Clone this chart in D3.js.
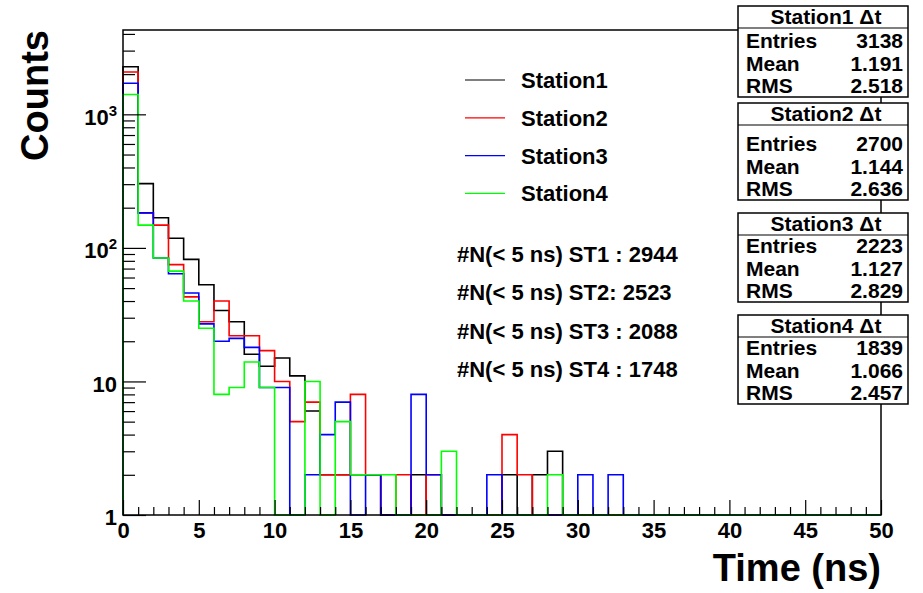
<!DOCTYPE html>
<html>
<head>
<meta charset="utf-8">
<script src="https://cdn.jsdelivr.net/npm/d3@7"></script>
<style>
body { margin: 0; background: #fff; }
text { font-family: "Liberation Sans", Arial, Helvetica, sans-serif; font-weight: bold; fill: #000; }
</style>
</head>
<body>
<svg id="chart" width="923" height="593"></svg>
<script>
// bins of 1 ns from 0 to 50 ns, counts per bin
const stationNames = ["Station1", "Station2", "Station3", "Station4"];
const stationColors = ["#000000", "#ff0000", "#0000ff", "#00ff00"];

const station1 = [2273, 303, 168, 118, 82, 53, 34, 28, 16, 13,
                  15, 11, 6, 2, 2, 2, 2, 1, 0, 2,
                  0, 0, 0, 0, 0, 2, 0, 2, 3, 0,
                  0, 0, 0, 0, 0, 0, 0, 0, 0, 0,
                  0, 0, 0, 0, 0, 0, 0, 0, 0, 0];
const station2 = [2074, 183, 148, 75, 43, 28, 40, 22, 22, 17,
                  10, 5, 7, 2, 2, 8, 2, 0, 2, 0,
                  2, 0, 0, 0, 0, 4, 2, 0, 0, 0,
                  0, 0, 0, 0, 0, 0, 0, 0, 0, 0,
                  0, 0, 0, 0, 0, 0, 0, 0, 0, 0];
const station3 = [1711, 183, 84, 64, 46, 27, 20, 21, 18, 9,
                  9, 0, 2, 4, 7, 0, 2, 0, 0, 8,
                  2, 0, 0, 0, 2, 0, 0, 0, 0, 0,
                  2, 0, 2, 0, 0, 0, 0, 0, 0, 0,
                  0, 0, 0, 0, 0, 0, 0, 0, 0, 0];
const station4 = [1409, 148, 84, 67, 40, 25, 8, 9, 14, 9,
                  0, 0, 10, 0, 5, 2, 2, 2, 0, 0,
                  0, 3, 0, 0, 0, 0, 0, 0, 2, 0,
                  0, 0, 0, 0, 0, 0, 0, 0, 0, 0,
                  0, 0, 0, 0, 0, 0, 0, 0, 0, 0];

const statEntries = [3138, 2700, 2223, 1839];
const statMeans = ["1.191", "1.144", "1.127", "1.066"];
const statRms = ["2.518", "2.636", "2.829", "2.457"];
const notes = ["#N(< 5 ns) ST1 : 2944", "#N(< 5 ns) ST2: 2523",
               "#N(< 5 ns) ST3 : 2088", "#N(< 5 ns) ST4 : 1748"];

const xMajorTicks = [0, 5, 10, 15, 20, 25, 30, 35, 40, 45, 50];
const yMajorTicks = [1, 10, 100, 1000];

const svg = d3.select("#chart");
const frameL = 123, frameR = 881, frameT = 30, frameB = 515;

const x = d3.scaleLinear().domain([0, 50]).range([frameL, frameR]);
const y = d3.scaleLog().domain([1, 4280]).range([frameB, frameT]).clamp(true);

// step outline of each histogram, drawn in order so green ends on top
const series = [station1, station2, station3, station4];
const line = d3.line().x(d => x(d[0])).y(d => y(Math.max(d[1], 1)));

series.forEach(function(vals, s) {
	let pts = [[0, 0]];
	vals.forEach(function(v, i) {
		pts.push([i, v]);
		pts.push([i + 1, v]);
	});
	pts.push([50, 0]);
	svg.append("path")
		.attr("d", line(pts))
		.attr("fill", "none")
		.attr("stroke", stationColors[s])
		.attr("stroke-width", 1.6);
});

// axes, ticks pointing into the frame
const xMinor = d3.range(0, 51).filter(v => v % 5 !== 0);
svg.append("g")
	.attr("transform", `translate(0,${frameB})`)
	.call(d3.axisBottom(x).tickValues(xMinor).tickSize(-8).tickFormat(""))
	.call(g => g.select(".domain").remove());
svg.append("g")
	.attr("transform", `translate(0,${frameB})`)
	.call(d3.axisBottom(x).tickValues(xMajorTicks).tickSize(-15).tickPadding(7).tickFormat(d3.format("d")))
	.call(g => g.select(".domain").remove())
	.call(g => g.selectAll("text").attr("font-size", 22).attr("font-family", null));

let yMinor = [];
[1, 10, 100, 1000].forEach(function(dec) {
	for (let k = 2; k <= 9; k++) if (dec * k < 4280) yMinor.push(dec * k);
});
svg.append("g")
	.attr("transform", `translate(${frameL},0)`)
	.call(d3.axisLeft(y).tickValues(yMinor).tickSize(-12).tickFormat(""))
	.call(g => g.select(".domain").remove());
svg.append("g")
	.attr("transform", `translate(${frameL},0)`)
	.call(d3.axisLeft(y).tickValues(yMajorTicks).tickSize(-23).tickPadding(6).tickFormat(d => String(d)))
	.call(g => g.select(".domain").remove())
	.call(g => g.selectAll("text")
		.attr("font-size", 22).attr("font-family", null).attr("dy", "0.45em")
		.each(function(d) {
			const e = Math.round(Math.log10(d));
			if (e >= 2) {
				d3.select(this).text("10")
					.append("tspan").attr("dy", -9).attr("font-size", 15).text(e);
			}
		}));
svg.selectAll(".tick line").attr("stroke", "#000").attr("stroke-width", 1.2);

svg.append("rect")
	.attr("x", frameL).attr("y", frameT)
	.attr("width", frameR - frameL).attr("height", frameB - frameT)
	.attr("fill", "none").attr("stroke", "#000").attr("stroke-width", 1.5);

// axis titles
svg.append("text")
	.attr("transform", "translate(48,30) rotate(-90)")
	.attr("text-anchor", "end")
	.attr("font-size", 38)
	.text("Counts");
svg.append("text")
	.attr("x", frameR).attr("y", 581)
	.attr("text-anchor", "end")
	.attr("font-size", 38)
	.text("Time (ns)");

// legend
const legend = svg.append("g");
stationNames.forEach(function(name, i) {
	const ly = 80 + i * 37.8;
	legend.append("line")
		.attr("x1", 465).attr("x2", 505).attr("y1", ly).attr("y2", ly)
		.attr("stroke", stationColors[i]).attr("stroke-width", 1.2);
	legend.append("text")
		.attr("x", 521).attr("y", ly + 8)
		.attr("font-size", 22)
		.text(name);
});

// counts below 5 ns
notes.forEach(function(t, i) {
	svg.append("text")
		.attr("x", 457).attr("y", 262 + i * 38.3)
		.attr("font-size", 22)
		.text(t);
});

// stat boxes
const boxTops = [6, 103, 213, 315];
const boxBottoms = [97, 200, 302, 404];
const bx0 = 738, bx1 = 908;
stationNames.forEach(function(name, i) {
	const g = svg.append("g");
	const t0 = boxTops[i], t1 = boxBottoms[i], sep = t0 + 22;
	g.append("rect")
		.attr("x", bx0).attr("y", t0)
		.attr("width", bx1 - bx0).attr("height", t1 - t0)
		.attr("fill", "#fff").attr("stroke", "#000").attr("stroke-width", 1.5);
	g.append("line")
		.attr("x1", bx0).attr("x2", bx1).attr("y1", sep).attr("y2", sep)
		.attr("stroke", "#000").attr("stroke-width", 1.2);
	g.append("text")
		.attr("x", (bx0 + bx1) / 2 + 3).attr("y", sep - 4)
		.attr("text-anchor", "middle")
		.attr("font-size", 21)
		.text(name + " \u0394t");
	const rows = [["Entries", statEntries[i]], ["Mean", statMeans[i]], ["RMS", statRms[i]]];
	rows.forEach(function(r, k) {
		const by = t1 - 4 - (2 - k) * 22.5;
		g.append("text").attr("x", bx0 + 8).attr("y", by).attr("font-size", 21).text(r[0]);
		g.append("text").attr("x", bx1 - 5).attr("y", by).attr("font-size", 21)
			.attr("text-anchor", "end").text(r[1]);
	});
});
</script>
</body>
</html>
